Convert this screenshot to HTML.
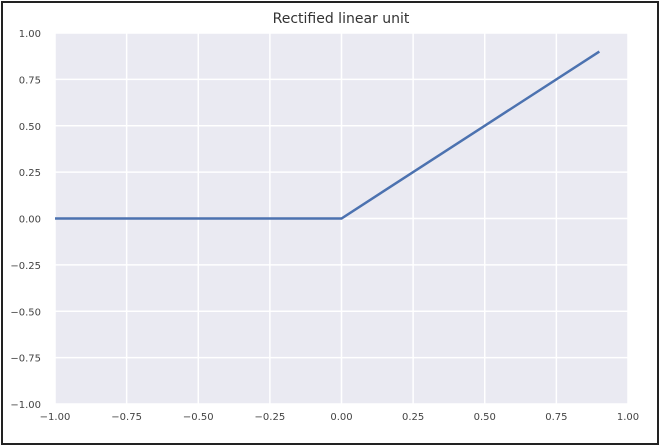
<!DOCTYPE html>
<html><head><meta charset="utf-8"><style>
body{margin:0;background:#fff;}
svg{display:block;font-family:"DejaVu Sans","Liberation Sans",sans-serif;}
</style></head><body>
<svg id="chart" width="661" height="447">
<rect x="2" y="2" width="656" height="442" fill="#fff" stroke="#222" stroke-width="2"/>
<text x="341" y="23" font-size="14" text-anchor="middle" fill="#333">Rectified linear unit</text>
</svg>
<script>
const xTicks=[-1,-0.75,-0.5,-0.25,0,0.25,0.5,0.75,1];
const yTicks=[-1,-0.75,-0.5,-0.25,0,0.25,0.5,0.75,1];
const xs=[-1,0,0.9];
const ys=[0,0,0.9];
const L=55,R=628,T=33,B=404;
const sx=v=>L+(v+1)/2*(R-L);
const sy=v=>B-(v+1)/2*(B-T);
const svg=document.getElementById('chart');
const NS='http://www.w3.org/2000/svg';
function mk(t,a){const e=document.createElementNS(NS,t);for(const k in a)e.setAttribute(k,a[k]);svg.appendChild(e);return e;}
const bg=mk('rect',{x:L,y:T,width:R-L,height:B-T,fill:'#eaeaf2'});


const fmt=v=>(v<0?'\u2212':'')+Math.abs(v).toFixed(2);
xTicks.forEach(v=>{
 const g=mk('line',{x1:sx(v),x2:sx(v),y1:T,y2:B,stroke:'#fff','stroke-width':1.5});
 
 
 const t=mk('text',{x:sx(v),y:B+16,'font-size':10,'text-anchor':'middle',fill:'#444'});
 t.textContent=fmt(v);
 
 
});
yTicks.forEach(v=>{
 const g=mk('line',{x1:L,x2:R,y1:sy(v),y2:sy(v),stroke:'#fff','stroke-width':1.5});
 
 
 const t=mk('text',{x:41,y:sy(v)+4,'font-size':10,'text-anchor':'end',fill:'#444'});
 t.textContent=fmt(v);
 
 
});
const line=mk('polyline',{points:xs.map((x,i)=>sx(x)+','+sy(ys[i])).join(' '),fill:'none',stroke:'#4c72b0','stroke-width':2.5});


</script>
</body></html>
